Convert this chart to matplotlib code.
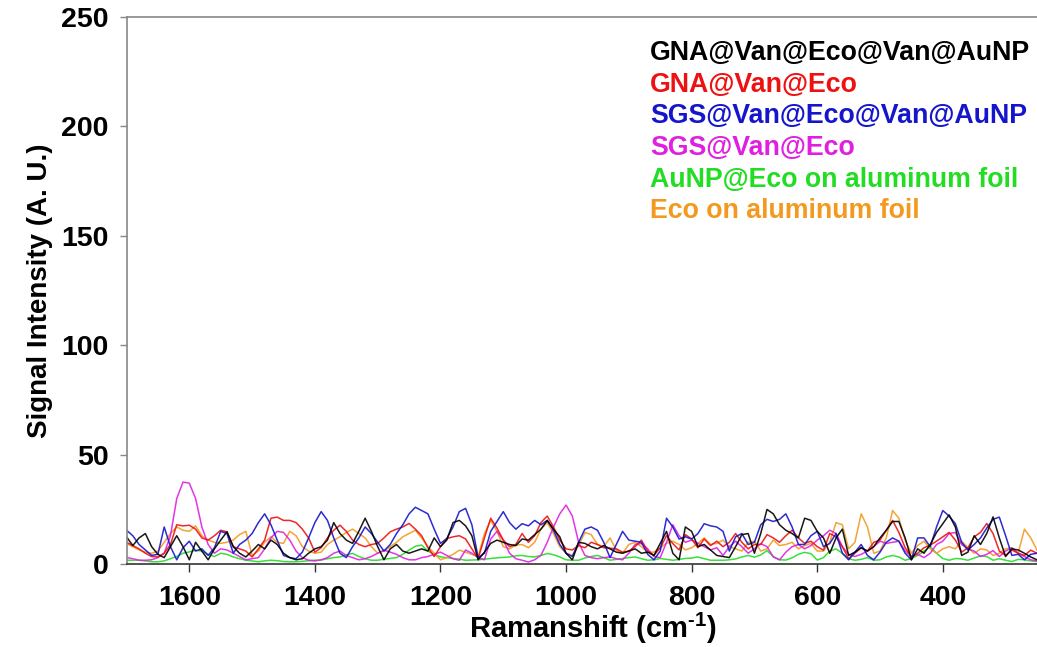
import numpy as np
import matplotlib
matplotlib.use("Agg")
import matplotlib.pyplot as plt

plt.rcParams['font.family'] = ['Liberation Sans', 'DejaVu Sans']
plt.rcParams['mathtext.fontset'] = 'custom'
plt.rcParams['mathtext.rm'] = 'Liberation Sans'
plt.rcParams['mathtext.bf'] = 'Liberation Sans:bold'

# Raman shift grid, 10 cm-1 steps from 1700 down to 250
shift = np.arange(1700, 249, -10)

gna_van_eco_van_aunp = [
    12.5, 8.5, 12, 14, 8, 4.5, 3, 8, 13, 8,
    2, 10, 6, 2, 7, 11, 14.8, 8, 5, 3.3,
    6, 9, 7, 11, 9, 5, 3, 2, 2.5, 5,
    7, 8, 11, 19, 14, 11, 9.5, 15, 21, 15,
    8, 2, 7, 9, 6, 5, 6, 7, 6, 12,
    8, 11, 19, 20, 17.5, 13, 2, 5.5, 9.5, 11,
    10, 9, 8.5, 11.5, 11, 13.5, 16, 20, 16, 12.5,
    5, 2, 10, 9.5, 8, 7, 8.5, 7, 5.5, 5,
    6, 7, 5, 5.5, 4, 9.5, 15, 5, 2, 17,
    15, 8, 9, 6.5, 4, 3.5, 3, 8, 13.5, 14,
    5, 14, 25, 23, 18, 15.5, 14, 12, 21, 20,
    15, 12, 5, 12, 16, 4, 5.5, 7.5, 6, 8,
    12, 15.5, 19.5, 19.5, 12, 2, 7, 5, 9, 14.5,
    18.5, 22.5, 17, 4, 5.5, 13, 9, 14, 21.6, 12,
    3.5, 7, 6.5, 5, 3.3, 2]

gna_van_eco = [
    10, 8.5, 7, 5, 3.5, 3.3, 5, 9, 18, 17.5,
    17.8, 16, 12, 11, 13, 15.5, 14.8, 8, 7, 6,
    3.3, 7, 11, 21, 21.5, 20, 20, 19, 16, 12,
    5.5, 7.5, 12, 15.5, 17.8, 15, 11, 9, 8, 9,
    9.5, 12, 14.8, 16, 17, 18.6, 16, 13, 7.5, 3.5,
    8, 11.7, 12.5, 13, 11.5, 7, 2.6, 12, 21, 16.5,
    11, 8, 9, 14, 10, 13, 19, 22, 17, 11,
    7, 6.5, 8.5, 7.5, 10, 9, 7.5, 7.3, 7, 5.5,
    6, 8, 11, 6, 4, 7.5, 13, 9.4, 6.5, 13.5,
    11.5, 7.5, 11.5, 8.5, 10.5, 8, 10, 14, 10, 7,
    9, 9, 13.5, 12, 10, 13, 15.5, 12, 9.5, 10.5,
    8, 6.4, 14, 12.5, 8, 2.5, 5, 7.5, 6, 10,
    11, 15.5, 20, 14.5, 7.5, 3.5, 5, 7.5, 8.7, 10.5,
    12.5, 14.5, 11, 5.5, 7.5, 12.5, 14.5, 18.6, 14, 6,
    4, 6.5, 5, 4, 6.4, 5]

sgs_van_eco_van_aunp = [
    15.5, 13, 9, 6.5, 4, 4.5, 17, 8, 2, 7.5,
    10.5, 6, 7, 4, 7.5, 15, 14, 5, 9, 11,
    14, 19, 23, 18, 11, 4, 3, 2.5, 5.5, 12,
    19, 24, 20, 12, 5, 3, 8, 12, 17, 14,
    10, 6, 9, 14, 18, 23, 26, 24.5, 23, 16,
    9.5, 11.7, 17, 24, 25.5, 18, 3, 5, 15, 19.5,
    24, 19, 16, 18.5, 17.5, 20, 18, 20, 15.5, 9,
    5, 3.5, 10, 16, 17, 15.5, 10, 3, 9, 15,
    11, 10.5, 10, 4.5, 2, 6, 21, 17, 11.5, 12.5,
    11.5, 14, 18.5, 17.5, 17, 15, 6, 12.5, 14, 9,
    10, 18, 20.5, 19.5, 20.5, 23, 17, 9, 9, 13,
    15, 8, 9.5, 14, 5, 2, 5.5, 9, 4, 2,
    5.5, 10, 12, 10.5, 5, 2, 12, 12, 8, 17,
    24.5, 22, 18.5, 10, 6.5, 9, 12, 16.5, 20.5, 21.5,
    13, 4, 4.5, 2, 4.5, 5]

sgs_van_eco = [
    3, 2.5, 1.8, 1.8, 2, 3, 5, 13, 30, 37.5,
    37, 30, 17, 9, 5, 7, 6.5, 5, 3.5, 2,
    2.5, 3, 7, 12, 15, 14.5, 11, 6, 3, 1.8,
    1.5, 2, 3, 5, 6, 4, 3, 2, 2.5, 3.5,
    5, 6.4, 5.5, 4.5, 3, 2, 2, 3, 3.5, 4.5,
    5.5, 4, 2.5, 1.8, 6.5, 5, 3, 2, 11.5, 15,
    11, 5, 2.5, 1.8, 1, 2, 4, 10, 17, 23,
    27, 22, 10, 4, 3, 2.5, 3, 3.3, 2.5, 2,
    5, 9, 9.5, 7, 3.5, 3, 10, 18, 13, 10,
    11, 9.5, 8, 6.5, 7.5, 4, 8, 10.5, 8, 5,
    7, 9.4, 8, 3.3, 2, 5.5, 8, 9, 7, 8.5,
    11, 13, 15.5, 14, 8, 4.5, 3.5, 4.5, 6, 8,
    10.5, 9.5, 10, 10.5, 6, 3.5, 4.5, 3, 5, 9,
    10.5, 14, 14.5, 9, 7, 6, 3.5, 4.5, 6.2, 3.5,
    6, 7.5, 5, 3.5, 2, 1.5]

aunp_eco_foil = [
    1.8, 1.8, 1.8, 1.5, 1.1, 1.1, 1.5, 2.5, 3.5, 5,
    5.6, 6.4, 6, 4.5, 3.5, 5, 4.5, 3.3, 2.5, 1.8,
    1.5, 1.1, 1.5, 1.8, 1.6, 1.2, 1.1, 1.1, 1.3, 1.6,
    1.8, 1.9, 2.5, 3, 3.3, 4.3, 4.9, 3.5, 2.5, 1.8,
    1.8, 2.3, 2.6, 3, 4.5, 6.4, 8.2, 8.7, 6, 4.5,
    3.3, 3, 2.6, 2.3, 1.8, 1.9, 2, 2.3, 2.6, 2.9,
    3.1, 3.3, 3.8, 4, 3.5, 3.3, 4, 4.9, 4.3, 3.3,
    2, 1.8, 1.8, 2.8, 3.5, 4, 3, 1.8, 2.2, 2.6,
    3, 3.3, 2.5, 1.8, 2, 2.6, 2.2, 1.8, 2.2, 2.6,
    2.8, 3.3, 2.5, 1.8, 1.8, 1.8, 2, 2.4, 3.3, 4,
    3.2, 4.2, 6.2, 3.5, 2, 1.9, 2.9, 4.5, 5.4, 4.8,
    1.9, 3, 6, 7, 5, 2.5, 1.8, 2.2, 3, 1.8,
    2, 3.3, 4, 3.3, 1.8, 2.6, 4, 6, 8, 5,
    2.6, 1.8, 2.6, 2.4, 1.8, 2.8, 3.8, 3.5, 1.8, 2.5,
    1.8, 1.2, 2.2, 2, 1.5, 1.2]

eco_foil = [
    9.4, 8, 6.5, 5.5, 5, 6, 10, 14, 17, 15.5,
    15, 17.5, 13, 11, 10, 9.5, 10, 11, 13.5, 15,
    4, 6, 10, 12.5, 10, 9.5, 15, 13, 8, 6,
    5, 5.5, 9, 11, 12.5, 14.5, 16, 14, 12, 8,
    5, 6, 8, 10, 12.5, 14, 15.5, 12, 8, 5,
    2, 3, 4.5, 6.4, 5.5, 4.5, 3.5, 14, 20, 15,
    8, 7, 8.7, 9, 7.5, 10, 16, 19, 14, 8,
    5, 4, 8.5, 14.5, 13.5, 9, 8, 12, 6.4, 5,
    9, 10, 8, 5.5, 5.5, 7.5, 9.5, 10.5, 9, 6.5,
    7.5, 9.5, 12, 9, 9.5, 11, 8, 7, 6, 10,
    10.5, 6, 7, 11, 8.5, 9, 10, 7, 8.5, 9.5,
    6, 6, 10, 19, 18, 7, 10, 23, 17, 5,
    6, 12, 24.5, 21, 11, 5, 8.5, 10.5, 7, 5,
    7, 8, 7, 10.5, 7.5, 5, 7, 6.5, 4, 5,
    7, 7.5, 5, 16, 12, 6.4]

labels = ['GNA@Van@Eco@Van@AuNP', 'GNA@Van@Eco', 'SGS@Van@Eco@Van@AuNP',
          'SGS@Van@Eco', 'AuNP@Eco on aluminum foil', 'Eco on aluminum foil']
series = [gna_van_eco_van_aunp, gna_van_eco, sgs_van_eco_van_aunp,
          sgs_van_eco, aunp_eco_foil, eco_foil]
colors = ['#000000', '#EE1111', '#1515CC', '#E020E0', '#22DD22', '#F39A1E']

fig = plt.figure(figsize=(10.37, 6.47), dpi=100)
ax = fig.add_axes([0.122, 0.128, 0.878, 0.846])

# draw order: back to front roughly as in the reference
order = [4, 5, 3, 1, 2, 0]
for i in order:
    ax.plot(shift, series[i], color=colors[i], lw=1.1, alpha=0.9)

ax.set_xlim(1700, 250)
ax.set_ylim(0, 250)
ax.set_xticks([1600, 1400, 1200, 1000, 800, 600, 400])
ax.set_yticks([0, 50, 100, 150, 200, 250])

for s in ['left', 'top']:
    ax.spines[s].set_color('#888888')
    ax.spines[s].set_linewidth(1.2)
ax.spines['bottom'].set_color('#333333')
ax.spines['bottom'].set_linewidth(1.2)
ax.spines['right'].set_visible(False)

ax.tick_params(axis='x', direction='out', length=6, width=1.0, color='#333333', pad=9)
ax.tick_params(axis='y', direction='out', length=5, width=1.0, color='#888888', pad=8)
for t in ax.get_xticklabels() + ax.get_yticklabels():
    t.set_fontsize(20.5)
    t.set_fontweight('bold')

ax.set_xlabel('Ramanshift (cm$^{\\mathbf{\u2010}\\mathbf{1}}$)', fontsize=21,
              fontweight='bold', labelpad=1)
ax.xaxis.set_label_coords(0.512, -0.085)
ax.set_ylabel('Signal Intensity (A. U.)', fontsize=20, fontweight='bold', labelpad=6)

ys = [0.934, 0.876, 0.819, 0.760, 0.702, 0.645]
for lab, col, yy in zip(labels, colors, ys):
    ax.text(0.575, yy, lab, color=col, fontsize=19.3, fontweight='bold',
            transform=ax.transAxes, ha='left', va='center')

fig.savefig('out.png', dpi=100)
